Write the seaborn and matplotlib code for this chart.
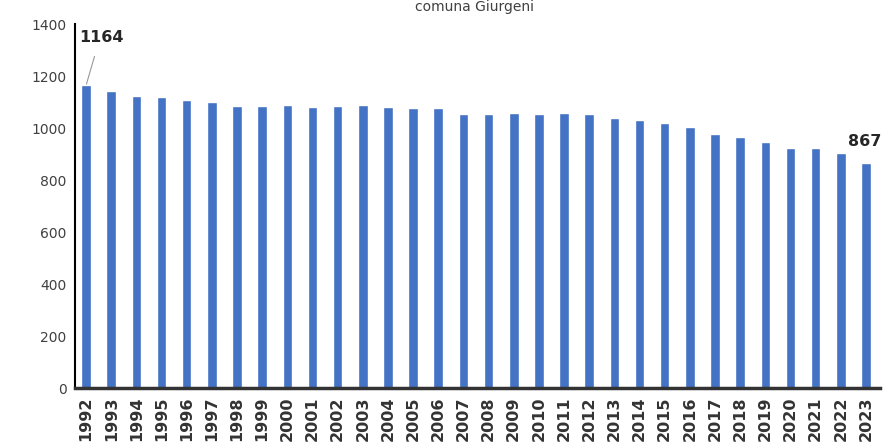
import matplotlib
matplotlib.use("Agg")
import matplotlib.pyplot as plt
import seaborn as sns
import pandas as pd

# population by year, comuna Giurgeni
years = [str(y) for y in range(1992, 2024)]
population = [1164, 1143, 1124, 1120, 1108, 1100, 1086, 1085, 1089, 1081,
              1085, 1089, 1082, 1077, 1077, 1055, 1055, 1059, 1055, 1059,
              1055, 1040, 1032, 1020, 1004, 978, 965, 947, 924, 924,
              905, 867]
title = "comuna Giurgeni"

df = pd.DataFrame({"year": years, "population": population})

sns.set_style("white")
plt.rcParams['font.family'] = ['DejaVu Sans']

fig = plt.figure(figsize=(8.86, 4.44), dpi=100)
ax = fig.add_axes([75/886, (444-388)/444, 805/886, 364/444])

sns.barplot(data=df, x="year", y="population", color="#4472C4",
            saturation=1, width=0.38, ax=ax)

ax.set_ylim(0, 1400)
ax.set_yticks(range(0, 1401, 200))
ax.set_xlim(-0.44, len(years) - 0.44)
ax.set_xlabel("")
ax.set_ylabel("")
ax.tick_params(axis="y", length=0, labelsize=10, labelcolor="#404040", pad=6)
ax.tick_params(axis="x", length=0, labelsize=11.5, rotation=90, pad=6)
for lab in ax.get_xticklabels():
    lab.set_fontweight("bold")
    lab.set_color("#333333")

for side in ["top", "right"]:
    ax.spines[side].set_visible(False)
ax.spines["left"].set_color("black")
ax.spines["left"].set_linewidth(1.5)
ax.spines["bottom"].set_color("#333333")
ax.spines["bottom"].set_linewidth(2.5)

# first and last value labels
ax.annotate(str(population[0]), xy=(0, population[0]), xytext=(-5, 29),
            textcoords="offset points", fontsize=11.5, fontweight="bold",
            ha="left", va="bottom",
            arrowprops=dict(arrowstyle="-", color="#999999", lw=0.8,
                            shrinkA=6, shrinkB=1,
                            relpos=(0.42, 0.0)))
ax.annotate(str(population[-1]), xy=(len(years) - 1, population[-1]),
            xytext=(-1, 10), textcoords="offset points", fontsize=11.5,
            fontweight="bold", ha="center", va="bottom")

fig.text(0.535, 1.0, title, ha="center", va="top", fontsize=10,
         color="#404040")

fig.savefig("out.png", dpi=100)
